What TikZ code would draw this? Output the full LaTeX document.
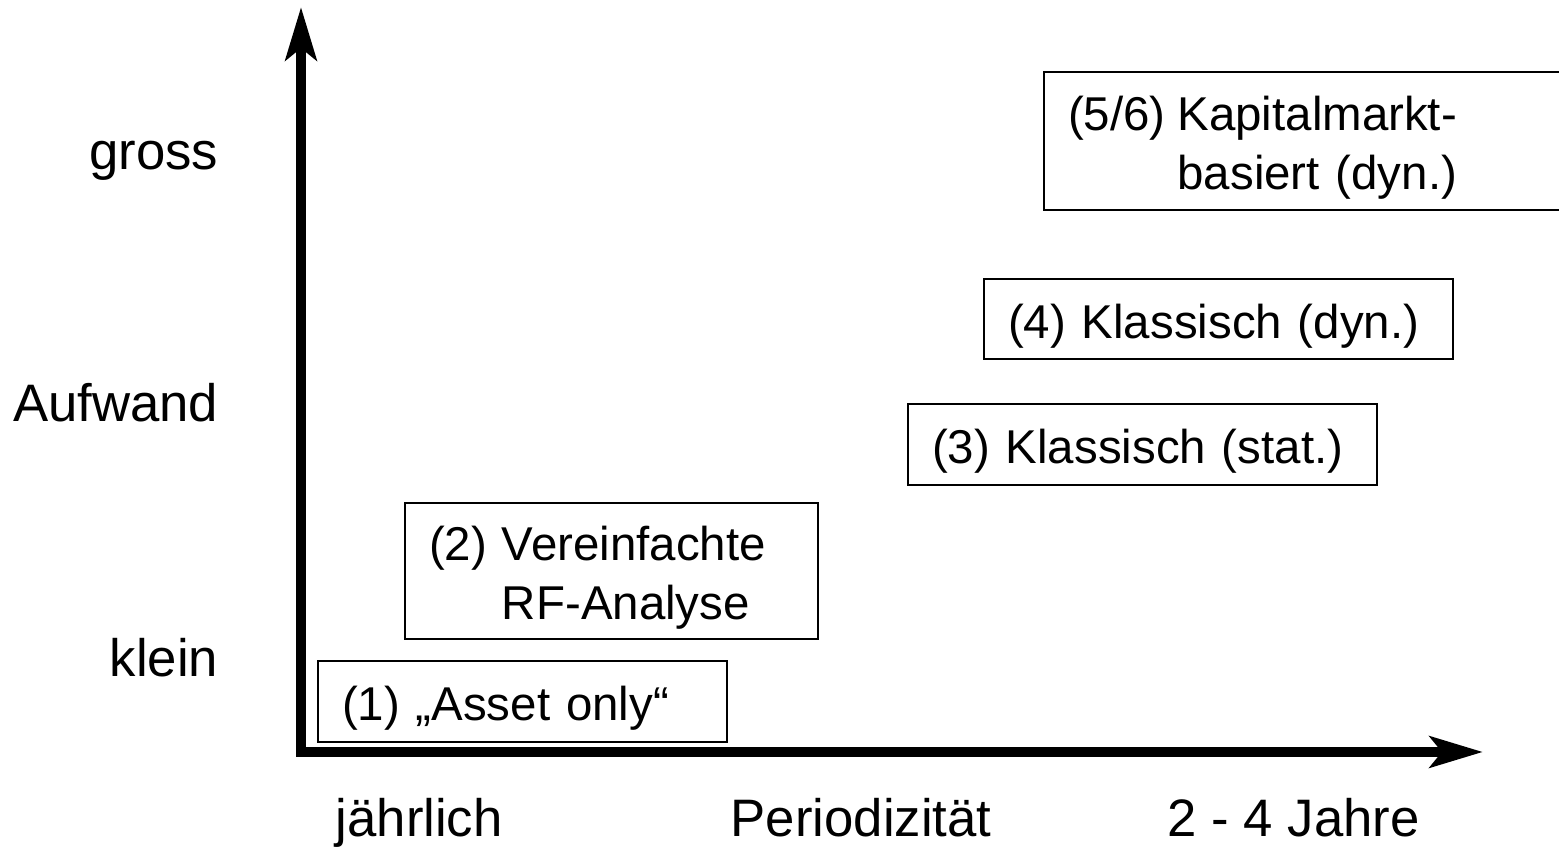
\documentclass[tikz,border=0pt]{standalone}
\usepackage{fontspec}
\setmainfont{Liberation Sans}
\usepackage{tikz}
\usetikzlibrary{positioning}
\usetikzlibrary{arrows.meta}
\tikzset{achse/.style={line width=0.1cm, line join=miter,
  {Stealth[length=0.53cm,width=0.31cm,inset=0.12cm]}-{Stealth[length=0.53cm,width=0.31cm,inset=0.12cm]}}}
\tikzset{methode/.style={draw, line width=0.75pt, inner xsep=0.24cm, inner ysep=0pt, align=left}}
\tikzset{skala/.style={inner sep=0pt, font=\fontsize{15}{18}\selectfont}}
\newcommand{\tiefer}[1]{\raisebox{-0.07cm}[\height][\depth]{#1}}

\begin{document}
\begin{tikzpicture}[font=\fontsize{13.5}{17}\selectfont]
\useasboundingbox (0,0) rectangle (15.59,8.5);
% Achsen
\coordinate (ursprung) at (3.01,0.98);
\coordinate (yspitze) at (3.01,8.43);
\coordinate (xspitze) at (14.83,0.98);
\draw[achse] (yspitze) -- (ursprung) -- (xspitze);
% Aufwand
\node[skala, anchor=base east] (gross) at (2.19,6.80) {gross};
\node[skala, anchor=base east] (aufwand) at (2.19,4.28) {Aufwand};
\node[skala, anchor=base east] (klein) at (2.19,1.73) {klein};
% Periodizitaet
\node[skala, anchor=base west] (jaehrlich) at (3.35,0.13) {jährlich};
\node[skala, anchor=base west] (periodizitaet) at (7.30,0.13) {Periodizität};
\node[skala, anchor=base west] (jahre) at (11.67,0.13) {2 - 4 Jahre};
% Methoden
\node[methode, text width=3.61cm, minimum height=0.81cm] (m1) at (5.225,1.485) {\tiefer{(1) „Asset only“}};
\node[methode, text width=3.65cm, minimum height=1.36cm] (m2) at (6.115,2.79)
  {\tiefer{\begin{tabular}{@{}l@{\hspace{0.15cm}}l@{}}(2) & Vereinfachte\\ & RF-Analyse\end{tabular}}};
\node[methode, text width=4.21cm, minimum height=0.81cm] (m3) at (11.425,4.055) {\tiefer{(3) Klassisch (stat.)}};
\node[methode, text width=4.21cm, minimum height=0.80cm] (m4) at (12.185,5.31) {\tiefer{(4) Klassisch (dyn.)}};
\node[methode, text width=4.68cm, minimum height=1.38cm] (m56) at (13.02,7.09)
  {\tiefer{\begin{tabular}{@{}l@{\hspace{0.12cm}}l@{}}(5/6) & Kapitalmarkt-\\ & basiert (dyn.)\end{tabular}}};
\end{tikzpicture}
\end{document}
